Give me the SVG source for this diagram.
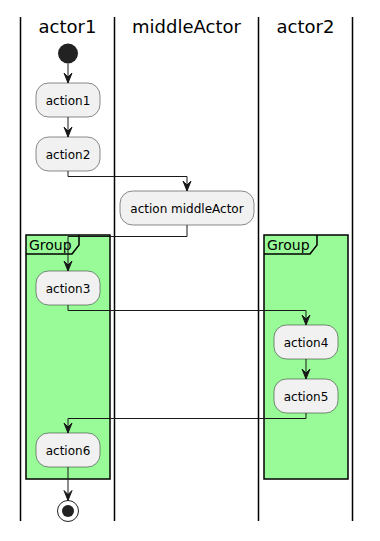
<svg xmlns="http://www.w3.org/2000/svg" width="380" height="541" viewBox="0 0 380 541">
<defs>
<style>
.lane{stroke:#000;stroke-width:1.5;fill:none}
.hdr{font-family:"DejaVu Sans",sans-serif;font-size:18px;fill:#000;text-anchor:middle}
.act rect{fill:#F1F1F1;stroke:#181818;stroke-width:0.5}
.act text{font-family:"DejaVu Sans",sans-serif;font-size:12px;fill:#000;text-anchor:middle}
.grp .box{fill:#98FB98;stroke:#000;stroke-width:1.5}
.grp .tab{fill:none;stroke:#000;stroke-width:1.5}
.grp text{font-family:"DejaVu Sans",sans-serif;font-size:14px;fill:#000}
.conn path{fill:none;stroke:#181818;stroke-width:1}
.conn polygon{fill:#181818;stroke:#181818;stroke-width:1}
</style>
</defs>
<g id="lanes">
<line class="lane" x1="20.5" y1="17" x2="20.5" y2="521"/>
<line class="lane" x1="114.5" y1="17" x2="114.5" y2="521"/>
<line class="lane" x1="258.5" y1="17" x2="258.5" y2="521"/>
<line class="lane" x1="352.5" y1="17" x2="352.5" y2="521"/>
<text class="hdr" x="67.5" y="33">actor1</text>
<text class="hdr" x="186.5" y="33">middleActor</text>
<text class="hdr" x="305.5" y="33">actor2</text>
</g>
<g id="group1" class="grp">
<rect class="box" x="26" y="235" width="84" height="244"/>
<path class="tab" d="M79,235 L79,245 L72,254 L26,254"/>
<text x="29" y="250">Group</text>
</g>
<g id="group2" class="grp">
<rect class="box" x="264" y="235" width="84" height="244"/>
<path class="tab" d="M317,235 L317,245 L310,254 L264,254"/>
<text x="267" y="250">Group</text>
</g>
<g id="start"><circle cx="68" cy="53.5" r="10" fill="#222222"/></g>
<g id="action1" class="act"><rect x="36" y="83" width="64" height="34" rx="12.5"/><text x="68" y="104.5">action1</text></g>
<g id="action2" class="act"><rect x="36" y="137" width="64" height="34" rx="12.5"/><text x="68" y="158.5">action2</text></g>
<g id="actionMiddle" class="act"><rect x="120" y="191" width="134" height="34" rx="12.5"/><text x="187" y="212.5">action middleActor</text></g>
<g id="action3" class="act"><rect x="36" y="271" width="64" height="34" rx="12.5"/><text x="68" y="292.5">action3</text></g>
<g id="action4" class="act"><rect x="274" y="325" width="64" height="34" rx="12.5"/><text x="306" y="346.5">action4</text></g>
<g id="action5" class="act"><rect x="274" y="379" width="64" height="34" rx="12.5"/><text x="306" y="400.5">action5</text></g>
<g id="action6" class="act"><rect x="36" y="433" width="64" height="34" rx="12.5"/><text x="68" y="454.5">action6</text></g>
<g id="end"><circle cx="68" cy="511" r="10.5" fill="none" stroke="#222222" stroke-width="1"/><circle cx="68" cy="511" r="6" fill="#222222"/></g>
<g id="connectors" class="conn">
<path d="M68,63.5 L68,83"/><polygon points="64,73 68,83 72,73 68,77"/>
<path d="M68,117 L68,137"/><polygon points="64,127 68,137 72,127 68,131"/>
<path d="M68,171 L68,176.5 L187,176.5 L187,191"/><polygon points="183,181 187,191 191,181 187,185"/>
<path d="M187,225 L187,236.5 L68,236.5 L68,271"/><polygon points="64,261 68,271 72,261 68,265"/>
<path d="M68,305 L68,310.5 L306,310.5 L306,325"/><polygon points="302,315 306,325 310,315 306,319"/>
<path d="M306,359 L306,379"/><polygon points="302,369 306,379 310,369 306,373"/>
<path d="M306,413 L306,418.5 L68,418.5 L68,433"/><polygon points="64,423 68,433 72,423 68,427"/>
<path d="M68,467 L68,500.5"/><polygon points="64,490.5 68,500.5 72,490.5 68,494.5"/>
</g>
</svg>
